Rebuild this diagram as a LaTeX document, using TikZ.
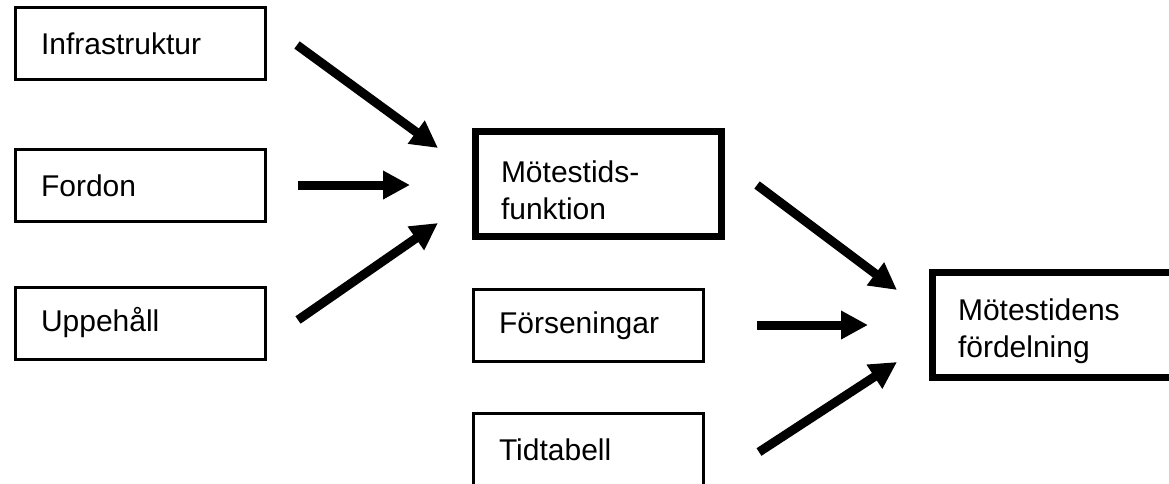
\documentclass[tikz,border=0pt]{standalone}
\usepackage{fontspec}
\setmainfont{Liberation Sans}
\usepackage{tikz}
\usetikzlibrary{arrows.meta}
\tikzset{
    box/.style={
        rectangle,
        draw=black,
        line width=3pt,
        minimum height=72pt,
        inner xsep=26pt,
        inner ysep=0pt,
        align=left,
        font=\fontsize{30}{37}\selectfont
    },
    bigbox/.style={
        box,
        line width=7pt,
        minimum height=105pt,
        text height=36pt
    },
    arr/.style={-{Triangle[length=27pt,width=27pt]},line width=9pt,black}
}

\begin{document}
\begin{tikzpicture}[x=1pt,y=-1pt]

\useasboundingbox (0,0) rectangle (1169,483);
\clip (0,0) rectangle (1169,483);

% Inputs
\node[box,text width=198pt] (infra) at (140,43.5) {Infrastruktur};
\node[box,text width=198pt] (fordon) at (140,185.5) {Fordon};
\node[box,text width=198pt] (uppeh) at (140,323) {Uppehåll};

% Middle column
\node[bigbox,text width=194pt] (mfunk) at (598,183.5) {Mötestids-\\funktion};
\node[box,text width=178pt] (fors) at (588,325.5) {Förseningar};
\node[box,text width=178pt] (tidt) at (588,449.5) {Tidtabell};

% Result
\node[bigbox,text width=188pt] (mford) at (1052,324.5) {Mötestidens\\fördelning};

% Arrow ends
\coordinate (a1s) at (297,45);  \coordinate (a1e) at (438,148);
\coordinate (a2s) at (298,185); \coordinate (a2e) at (410,185);
\coordinate (a3s) at (298,320); \coordinate (a3e) at (438,223);
\coordinate (a4s) at (757,185); \coordinate (a4e) at (897,290);
\coordinate (a5s) at (757,325); \coordinate (a5e) at (868,325);
\coordinate (a6s) at (759,452); \coordinate (a6e) at (897,362);

\draw[arr] (a1s) -- (a1e);
\draw[arr] (a2s) -- (a2e);
\draw[arr] (a3s) -- (a3e);
\draw[arr] (a4s) -- (a4e);
\draw[arr] (a5s) -- (a5e);
\draw[arr] (a6s) -- (a6e);

\end{tikzpicture}
\end{document}
